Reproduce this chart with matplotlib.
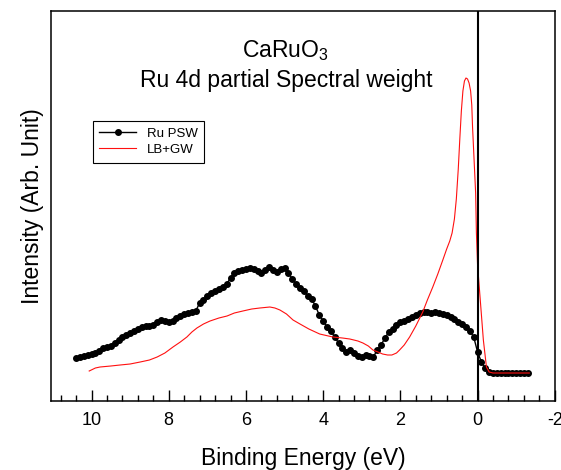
import numpy as np
import matplotlib
matplotlib.use("Agg")
import matplotlib.pyplot as plt
from matplotlib.ticker import MultipleLocator, NullLocator

plt.rcParams['font.family'] = ['Liberation Sans', 'DejaVu Sans']
plt.rcParams['mathtext.fontset'] = 'custom'
plt.rcParams['mathtext.rm'] = 'Liberation Sans'
plt.rcParams['axes.unicode_minus'] = False

# Ru 4d partial spectral weight (points)
psw_energy = [10.4, 10.3, 10.2, 10.1, 10.0, 9.9, 9.8, 9.7, 9.6, 9.5, 9.4, 9.3,
              9.2, 9.1, 9.0, 8.9, 8.8, 8.7, 8.6, 8.5, 8.4, 8.3, 8.2, 8.1,
              8.0, 7.9, 7.8, 7.7, 7.6, 7.5, 7.4, 7.3, 7.2, 7.1, 7.0, 6.9,
              6.8, 6.7, 6.6, 6.5, 6.4, 6.3, 6.2, 6.1, 6.0, 5.9, 5.8, 5.7,
              5.6, 5.5, 5.4, 5.3, 5.2, 5.1, 5.0, 4.9, 4.8, 4.7, 4.6, 4.5,
              4.4, 4.3, 4.2, 4.1, 4.0, 3.9, 3.8, 3.7, 3.6, 3.5, 3.4, 3.3,
              3.2, 3.1, 3.0, 2.9, 2.8, 2.7, 2.6, 2.5, 2.4, 2.3, 2.2, 2.1,
              2.0, 1.9, 1.8, 1.7, 1.6, 1.5, 1.4, 1.3, 1.2, 1.1, 1.0, 0.9,
              0.8, 0.7, 0.6, 0.5, 0.4, 0.3, 0.2, 0.1, 0.0, -0.1, -0.2, -0.3,
              -0.4, -0.5, -0.6, -0.7, -0.8, -0.9, -1.0, -1.1, -1.2, -1.3]
psw_int = [0.43, 0.44, 0.45, 0.46, 0.47, 0.48, 0.50, 0.53, 0.54, 0.55, 0.58, 0.61,
           0.64, 0.66, 0.68, 0.70, 0.72, 0.74, 0.75, 0.75, 0.76, 0.79, 0.81, 0.80,
           0.79, 0.80, 0.83, 0.85, 0.87, 0.88, 0.89, 0.90, 0.98, 1.01, 1.05, 1.08,
           1.10, 1.12, 1.14, 1.17, 1.23, 1.28, 1.30, 1.31, 1.32, 1.33, 1.32, 1.30,
           1.28, 1.31, 1.34, 1.31, 1.29, 1.32, 1.33, 1.28, 1.22, 1.17, 1.13, 1.10,
           1.05, 1.02, 0.95, 0.86, 0.80, 0.74, 0.70, 0.64, 0.58, 0.53, 0.49, 0.51,
           0.48, 0.45, 0.44, 0.46, 0.45, 0.44, 0.51, 0.56, 0.63, 0.69, 0.72, 0.76,
           0.79, 0.80, 0.82, 0.84, 0.86, 0.88, 0.89, 0.89, 0.88, 0.89, 0.88, 0.87,
           0.86, 0.84, 0.82, 0.79, 0.77, 0.74, 0.70, 0.64, 0.49, 0.39, 0.33, 0.29,
           0.28, 0.28, 0.28, 0.28, 0.28, 0.28, 0.28, 0.28, 0.28, 0.28]

# LB+GW calculation (line)
gw_energy = [10.06, 9.9, 9.78, 9.5, 9.26, 9.0, 8.74, 8.5, 8.3, 8.1, 7.89, 7.7,
             7.53, 7.4, 7.27, 7.1, 6.93, 6.7, 6.49, 6.3, 6.08, 5.85, 5.64, 5.38,
             5.25, 5.12, 4.95, 4.78, 4.6, 4.37, 4.09, 3.75, 3.5, 3.31, 3.1, 2.97,
             2.83, 2.71, 2.58, 2.46, 2.33, 2.22, 2.1, 2.02, 1.9, 1.76, 1.6, 1.42,
             1.3, 1.16, 1.03, 0.9, 0.8, 0.72, 0.66, 0.6, 0.55, 0.5, 0.46, 0.42,
             0.38, 0.34, 0.3, 0.26, 0.22, 0.18, 0.15, 0.13, 0.09, 0.05, 0.03, 0.0,
             -0.08, -0.15, -0.23, -0.3, -0.4, -1.34]
gw_int = [0.30, 0.33, 0.34, 0.35, 0.36, 0.37, 0.39, 0.41, 0.44, 0.48, 0.54, 0.59,
          0.64, 0.69, 0.73, 0.77, 0.80, 0.83, 0.85, 0.88, 0.90, 0.92, 0.93, 0.94,
          0.93, 0.91, 0.87, 0.81, 0.77, 0.72, 0.67, 0.64, 0.63, 0.62, 0.60, 0.58,
          0.55, 0.51, 0.49, 0.47, 0.46, 0.46, 0.48, 0.51, 0.56, 0.64, 0.75, 0.89,
          1.01, 1.14, 1.27, 1.41, 1.52, 1.60, 1.68, 1.82, 2.02, 2.32, 2.62, 2.90,
          3.10, 3.20, 3.23, 3.22, 3.18, 3.10, 2.96, 2.74, 2.41, 2.08, 1.68, 1.36,
          0.96, 0.61, 0.34, 0.29, 0.28, 0.28]

fig = plt.figure(figsize=(5.61, 4.70), dpi=100)
ax = fig.add_axes([0.0909, 0.1468, 0.898, 0.8298])

ax.plot(psw_energy, psw_int, color='black', lw=1.0, marker='o', ms=4.0,
        label='Ru PSW')
ax.plot(gw_energy, gw_int, color='#ff1010', lw=0.8, label='LB+GW')
ax.axvline(0, color='black', lw=1.5)

ax.set_xlim(11.05, -2.0)
ax.set_ylim(0, 3.9)
ax.xaxis.set_major_locator(MultipleLocator(2))
ax.xaxis.set_minor_locator(MultipleLocator(0.4))
ax.yaxis.set_major_locator(NullLocator())
ax.tick_params(axis='x', which='major', direction='in', length=8, width=1,
               labelsize=13, pad=8)
ax.tick_params(axis='x', which='minor', direction='in', length=4, width=1)
for s in ax.spines.values():
    s.set_linewidth(1.1)

ax.set_xlabel('Binding Energy (eV)', fontsize=16.5, labelpad=13)
ax.set_ylabel('Intensity (Arb. Unit)', fontsize=16.5, labelpad=5)

ax.text(0.466, 0.882, 'CaRuO$_3$', transform=ax.transAxes, ha='center',
        va='baseline', fontsize=16.5)
ax.text(0.466, 0.805, 'Ru 4d partial Spectral weight', transform=ax.transAxes,
        ha='center', va='baseline', fontsize=16.5)

leg = ax.legend(loc='upper left', bbox_to_anchor=(0.083, 0.718), borderaxespad=0,
                fontsize=9.5, numpoints=1, handlelength=2.8, fancybox=False,
                framealpha=1, edgecolor='black', borderpad=0.5, labelspacing=0.3)
leg.get_frame().set_linewidth(0.8)

fig.savefig('out.png', dpi=100)
